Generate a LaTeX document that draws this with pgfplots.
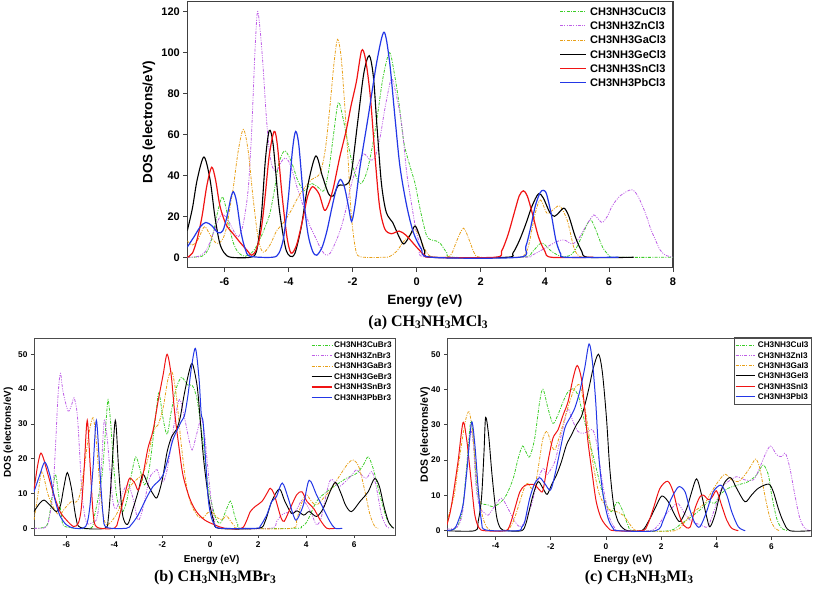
\documentclass[border=0pt]{standalone}
\usepackage{fontspec}
\setmainfont{Liberation Serif}
\setsansfont{Liberation Sans}
\usepackage{pgfplots}
\pgfplotsset{compat=1.18}
\definecolor{cCu}{RGB}{60,205,40}
\definecolor{cZn}{RGB}{190,95,230}
\definecolor{cGa}{RGB}{232,160,25}
\definecolor{cGe}{RGB}{0,0,0}
\definecolor{cSn}{RGB}{240,20,20}
\definecolor{cPb}{RGB}{35,55,230}
\newcommand\sub[1]{\raisebox{-0.25ex}{\fontsize{11.5}{12}\selectfont #1}}
\newcommand\ttl{\fontsize{16}{18}\selectfont\bfseries}
\newcommand\fla{\fontsize{11}{12}\selectfont\sffamily\bfseries}
\newcommand\flb{\fontsize{8.2}{9}\selectfont\sffamily\bfseries}
\tikzset{
  dcu/.style={dash pattern=on 3pt off 1.3pt on 1pt off 1.3pt},
  dzn/.style={dash pattern=on 3pt off 1.3pt on 1pt off 1.3pt on 1pt off 1.3pt},
  lcu/.style={color=cCu, draw=cCu, line width=0.8pt, dcu},
  lzn/.style={color=cZn, draw=cZn, line width=0.8pt, dzn},
  lga/.style={color=cGa, draw=cGa, line width=0.8pt, dcu},
  lge/.style={color=cGe, draw=cGe, line width=1.0pt},
  lsn/.style={color=cSn, draw=cSn, line width=1.1pt},
  lpb/.style={color=cPb, draw=cPb, line width=1.1pt},
}
% legend key line: #1 x0, #2 x1, #3 row y (px from top), #4 style
\newcommand\legkey[4]{\begin{scope}[#4]\draw[#4] (#1,591-#3) -- (#2,591-#3);\end{scope}}
% legend text: #1 x, #2 row y, #3 half cap height, #4 font, #5 text
\newcommand\legtxt[5]{\node[anchor=base west, inner sep=0pt, font=#4] at (#1,591-#2-#3) {#5};}
\pgfplotsset{
  cu/.style={color=cCu, line width=0.8pt, smooth, dcu},
  zn/.style={color=cZn, line width=0.8pt, smooth, dzn},
  ga/.style={color=cGa, line width=0.8pt, smooth, dcu},
  ge/.style={color=cGe, line width=0.9pt, smooth},
  sn/.style={color=cSn, line width=1.0pt, smooth},
  pb/.style={color=cPb, line width=1.0pt, smooth},
  dosax/.style={scale only axis, anchor=south west, tick align=outside,
    xtick pos=bottom, ytick pos=left, clip=true,
    /pgf/number format/assume math mode=true,
    every tick/.style={black!75, line width=0.7pt}},
}
\begin{document}
\begin{tikzpicture}[x=1pt,y=1pt]
\useasboundingbox (0,0) rectangle (815,591);
% ---------------- legend keys first (before any text) ----------------
\path[draw=white, line width=0.1pt] (1,1) -- (1.5,1);
\fill[white] (734.3,591-337.7) rectangle (811,591-404.3);
\legkey{560}{586}{11.7}{lcu}
\legkey{560}{586}{25.9}{lzn}
\legkey{560}{586}{40.1}{lga}
\legkey{560}{586}{54.3}{lge}
\legkey{560}{586}{68.5}{lsn}
\legkey{560}{586}{82.7}{lpb}
\legkey{311.7}{331.7}{345}{lcu}
\legkey{311.7}{331.7}{355.5}{lzn}
\legkey{311.7}{331.7}{366}{lga}
\legkey{311.7}{331.7}{376.5}{lge}
\legkey{311.7}{331.7}{387}{lsn}
\legkey{311.7}{331.7}{397.5}{lpb}
\legkey{735.5}{755}{345}{lcu}
\legkey{735.5}{755}{355.3}{lzn}
\legkey{735.5}{755}{365.6}{lga}
\legkey{735.5}{755}{376}{lge}
\legkey{735.5}{755}{386.3}{lsn}
\legkey{735.5}{755}{396.6}{lpb}
\draw[black!70, line width=0.6pt] (734.3,591-337.7) rectangle (811,591-404.3);
% ---------------- (a) ----------------
\begin{axis}[dosax, at={(187.3pt,323.3pt)}, width=485.7pt, height=266pt,
  xmin=-7.16, xmax=8, ymin=-5.1, ymax=124.9,
  xtick={-6,-4,...,8}, ytick={0,20,...,120},
  major tick length=4pt,
  axis line style={black!75, line width=1.2pt},
  ticklabel style={font=\fla},
  xticklabel style={yshift=-2.5pt},
  xlabel={Energy (eV)}, ylabel={DOS (electrons/eV)},
  label style={font=\fontsize{13.5}{15}\selectfont\sffamily\bfseries},
  xlabel style={at={(axis description cs:0.489,-0.126)}, anchor=center},
  ylabel style={at={(axis description cs:-0.079,0.546)}, anchor=center},
]
\addplot[cu] coordinates {(-7.16,0) (-6.7,0.5) (-6.5,4) (-6.35,12) (-6.2,23) (-6.07,29.5) (-5.95,24) (-5.83,13.5) (-5.7,6) (-5.55,2) (-5.35,0.5) (-5.1,3) (-4.9,8.5) (-4.7,16) (-4.58,21.5) (-4.45,32) (-4.3,46) (-4.13,52) (-3.98,49) (-3.85,44) (-3.7,37) (-3.5,32.5) (-3.3,36) (-3.1,34.5) (-2.9,32.5) (-2.75,42) (-2.62,57) (-2.45,75.5) (-2.3,68) (-2.15,56) (-1.95,42) (-1.75,36) (-1.55,42) (-1.35,57) (-1.2,72) (-1.05,88) (-0.85,100) (-0.7,90) (-0.55,75) (-0.4,56) (-0.2,44) (-0.05,36) (0.1,24) (0.3,11) (0.45,8.5) (0.6,8) (0.75,6.5) (0.95,2) (1.15,0) (3.3,0) (3.6,2.5) (3.9,7) (4.2,3) (4.5,0.5) (4.8,1) (5.0,5) (5.2,12) (5.42,18.3) (5.6,13) (5.8,5) (6.0,1) (6.2,0) (8,0)};
\addplot[zn] coordinates {(-7.16,0) (-6.8,0.5) (-6.56,3.6) (-6.35,11.7) (-6.2,18) (-6.07,21) (-5.9,18.5) (-5.72,13) (-5.57,10) (-5.45,14) (-5.35,22) (-5.25,35) (-5.15,62) (-5.05,100) (-4.97,120) (-4.88,110) (-4.79,92) (-4.7,70) (-4.6,52) (-4.5,44) (-4.38,42) (-4.25,46) (-4.12,48.5) (-4.0,47) (-3.88,42) (-3.74,34.5) (-3.54,25) (-3.35,16) (-3.2,11) (-3.02,5) (-2.85,1.2) (-2.7,2) (-2.5,8.5) (-2.35,15) (-2.2,24) (-2.05,35) (-1.85,45) (-1.65,50.5) (-1.45,47.5) (-1.3,49) (-1.15,58) (-1.0,72) (-0.85,84) (-0.77,87.5) (-0.62,78) (-0.46,64) (-0.31,41) (-0.15,25) (-0.03,14) (0.12,5) (0.32,0) (3.3,0) (3.6,1) (4.0,4.4) (4.35,7.5) (4.6,8.5) (4.85,6.5) (5.05,9) (5.2,13) (5.37,17.5) (5.53,20.7) (5.65,19) (5.79,17) (5.95,20) (6.1,25) (6.35,30) (6.7,33) (6.9,30) (7.14,21.5) (7.3,14) (7.45,8.5) (7.6,3.5) (7.77,1) (8,0)};
\addplot[ga] coordinates {(-7.16,8) (-7.0,6) (-6.85,8) (-6.7,13) (-6.61,15) (-6.45,11) (-6.3,7.5) (-6.19,6.8) (-6.05,9) (-5.93,15) (-5.8,27) (-5.72,34.5) (-5.57,52) (-5.41,62.5) (-5.26,52) (-5.1,28) (-4.94,8.5) (-4.79,2.5) (-4.58,6) (-4.37,13) (-4.2,16) (-3.95,22) (-3.64,31) (-3.28,38) (-3.02,41) (-2.85,53) (-2.7,75) (-2.58,95) (-2.47,106.5) (-2.36,98) (-2.25,75) (-2.13,45) (-2.05,22) (-1.92,5) (-1.77,0.3) (-1.0,0) (-0.83,0.5) (-0.62,3) (-0.41,7.7) (-0.2,11) (-0.05,13.4) (0.1,10) (0.25,4) (0.45,0.3) (0.95,0) (1.1,2) (1.25,8) (1.46,14.2) (1.65,8) (1.8,2) (2.0,0) (3.2,0) (3.35,1) (3.49,5.5) (3.7,21.5) (3.86,28) (4.07,21.5) (4.28,23.5) (4.47,25) (4.7,18) (4.9,5) (5.06,0.6) (5.3,0)};
\addplot[ge, line width=1.1pt] coordinates {(-7.16,13) (-7.0,24) (-6.85,38) (-6.64,49) (-6.45,38) (-6.3,20) (-6.15,7) (-6.0,2) (-5.8,0) (-5.2,0) (-5.0,3) (-4.85,20) (-4.72,48) (-4.6,62) (-4.48,55) (-4.3,25) (-4.1,5) (-3.95,0.5) (-3.8,2) (-3.6,15) (-3.4,35) (-3.15,49.5) (-2.95,40) (-2.75,31) (-2.6,30) (-2.45,35) (-2.2,35.5) (-2.05,40) (-1.85,65) (-1.65,90) (-1.48,98.5) (-1.35,88) (-1.24,64) (-1.1,36) (-0.95,22) (-0.75,17) (-0.55,10) (-0.4,6.5) (-0.2,11) (-0.05,15.3) (0.1,10) (0.25,3) (0.45,0) (2.8,0) (3.0,2) (3.2,8) (3.4,16) (3.6,25) (3.8,31) (3.95,29) (4.15,22) (4.3,20) (4.45,22) (4.6,24) (4.75,20) (4.95,10) (5.15,3) (5.35,0) (6.77,0)};
\addplot[sn, line width=1.2pt] coordinates {(-7.16,0) (-7.0,2) (-6.85,9) (-6.7,20) (-6.55,35) (-6.4,44) (-6.28,38) (-6.14,25) (-5.95,16) (-5.73,11.5) (-5.5,7) (-5.3,3.5) (-5.15,1) (-5.0,4) (-4.85,14) (-4.73,30) (-4.6,50) (-4.45,61.5) (-4.35,55) (-4.2,30) (-4.05,10) (-3.92,2) (-3.75,6) (-3.55,19) (-3.4,30) (-3.25,34.5) (-3.05,31) (-2.88,23) (-2.75,26) (-2.6,34) (-2.4,49) (-2.2,62) (-2.05,74) (-1.88,86) (-1.72,101) (-1.6,97) (-1.45,79) (-1.3,49) (-1.16,25) (-1.0,14) (-0.8,11.5) (-0.55,12.8) (-0.35,11) (-0.2,8.5) (0.05,4) (0.25,1) (0.45,0) (2.45,0) (2.65,3) (2.85,11) (3.05,22) (3.2,30) (3.33,32.5) (3.45,30) (3.6,22) (3.8,10) (4.0,3) (4.2,0) (5.5,0)};
\addplot[pb, line width=1.2pt] coordinates {(-7.16,5) (-6.95,10) (-6.75,15) (-6.58,17) (-6.4,15.5) (-6.2,12) (-6.05,13) (-5.92,20) (-5.8,29) (-5.72,32) (-5.62,27) (-5.48,12) (-5.35,4) (-5.2,0.5) (-4.5,0) (-4.3,2) (-4.15,10) (-4.0,30) (-3.88,52) (-3.78,61.5) (-3.68,55) (-3.55,32) (-3.4,12) (-3.25,3) (-3.12,1) (-2.95,5) (-2.8,13) (-2.65,24) (-2.5,34) (-2.38,38) (-2.25,34) (-2.12,24) (-2.03,17.5) (-1.92,26) (-1.77,44) (-1.5,70) (-1.24,96) (-1.02,110) (-0.85,96) (-0.67,67) (-0.52,44) (-0.31,25) (-0.1,12) (0.15,4) (0.45,0) (3.2,0) (3.4,5) (3.55,14) (3.7,25) (3.85,31.5) (3.95,32.7) (4.05,31) (4.2,21) (4.35,8) (4.5,1.5) (4.65,0) (6.3,0)};
\end{axis}
% ---------------- (b) ----------------
\begin{axis}[dosax, at={(34pt,56pt)}, width=361pt, height=196.7pt,
  xmin=-7.35, xmax=7.70, ymin=-1.93, ymax=54.6,
  xtick={-6,-4,...,6}, ytick={0,10,...,50},
  major tick length=3pt,
  axis line style={black!70, line width=0.8pt},
  ticklabel style={font=\fontsize{8.3}{9}\selectfont\sffamily\bfseries},
  xlabel={Energy (eV)}, ylabel={DOS (electrons/eV)},
  label style={font=\fontsize{10}{11}\selectfont\sffamily\bfseries},
  xlabel style={at={(axis description cs:0.492,-0.127)}, anchor=center},
  ylabel style={at={(axis description cs:-0.071,0.521)}, anchor=center},
]
\addplot[cu] coordinates {(-7.35,0) (-6.85,0.5) (-6.7,4) (-6.6,9) (-6.46,15.5) (-6.33,10) (-6.2,3.5) (-6.05,0.5) (-5.0,0) (-4.85,3) (-4.65,9.5) (-4.5,16) (-4.4,25) (-4.3,35) (-4.25,36.7) (-4.15,30) (-4.03,18) (-3.9,9) (-3.75,5.5) (-3.64,4.8) (-3.48,8) (-3.3,15) (-3.11,20.5) (-2.94,17.2) (-2.74,12.5) (-2.55,17) (-2.4,25) (-2.25,34) (-2.14,39) (-1.97,31.6) (-1.8,27) (-1.63,33.5) (-1.42,40.2) (-1.2,43.4) (-0.95,41.2) (-0.75,41) (-0.55,37) (-0.31,25) (-0.1,12.5) (0.11,5.7) (0.25,2.5) (0.42,1.4) (0.62,4.5) (0.84,7.8) (1.0,4) (1.15,1) (1.35,0) (3.6,0) (3.8,0.5) (4.03,1.9) (4.43,7.7) (4.85,10.5) (5.26,12.5) (5.68,14.4) (6.1,15.8) (6.38,18.2) (6.58,20.5) (6.79,17.2) (7.07,9.6) (7.35,2.9) (7.6,0)};
\addplot[zn] coordinates {(-7.35,0) (-6.85,0.3) (-6.69,3.8) (-6.56,10.5) (-6.45,24) (-6.35,38) (-6.25,44.5) (-6.14,39.3) (-5.93,33.7) (-5.78,35.5) (-5.68,37.5) (-5.55,33) (-5.45,22) (-5.35,10) (-5.22,3) (-5.1,1.2) (-4.95,1.5) (-4.75,2.4) (-4.62,8) (-4.52,20) (-4.42,31) (-4.3,26) (-4.19,17.2) (-4.06,7.7) (-3.92,5.7) (-3.64,10.5) (-3.43,12.5) (-3.22,8.6) (-3.01,2.4) (-2.81,5.7) (-2.53,14.4) (-2.32,16.3) (-2.21,16.8) (-2.08,14) (-1.95,13.4) (-1.76,18.2) (-1.49,30.7) (-1.28,37) (-1.07,31.6) (-0.93,26.8) (-0.76,22.5) (-0.58,26.8) (-0.38,31.5) (-0.24,27) (-0.1,17.2) (0.04,7.7) (0.18,1.9) (0.4,0) (2.5,0) (2.76,1.9) (2.97,3.8) (3.2,4.5) (3.45,4.3) (3.65,6) (3.82,8.1) (4.03,6.7) (4.24,3.8) (4.43,1) (4.6,2.5) (4.71,5.7) (4.93,12.5) (5.07,14.1) (5.35,12) (5.63,13.4) (5.9,15.3) (6.1,16.8) (6.35,15) (6.52,14.4) (6.74,16.3) (6.93,11.5) (7.14,3.8) (7.35,0.5) (7.5,0)};
\addplot[ga] coordinates {(-7.35,2.4) (-7.2,9) (-7.05,16) (-6.95,15) (-6.76,9.6) (-6.49,5.3) (-6.28,3.8) (-6.07,5.7) (-5.79,7.7) (-5.6,7.5) (-5.44,9.6) (-5.24,18.2) (-5.07,26.8) (-4.89,31.8) (-4.75,25) (-4.61,12.5) (-4.47,3.8) (-4.33,1) (-4.13,1.9) (-3.85,4.8) (-3.57,9.6) (-3.29,12.5) (-3.01,14.4) (-2.81,15.8) (-2.6,20) (-2.39,27.8) (-2.18,29.7) (-1.97,34.5) (-1.76,43) (-1.6,45) (-1.42,38.3) (-1.21,24) (-1.0,12.5) (-0.79,6.7) (-0.51,3.4) (-0.3,3) (-0.1,4.5) (0.1,4.5) (0.3,3) (0.5,2.5) (0.67,3.6) (0.85,2) (1.0,0.8) (1.2,0) (3.4,0) (3.6,2.5) (3.74,5.7) (3.88,8.6) (4.02,9.6) (4.22,7.7) (4.43,6.7) (4.71,8.6) (5.06,11.5) (5.41,15.3) (5.75,18.7) (5.97,19.6) (6.2,17.5) (6.45,10.5) (6.66,3.8) (6.86,0.5) (7.0,0)};
\addplot[ge] coordinates {(-7.35,4.8) (-7.11,7.2) (-6.93,8.1) (-6.69,6.7) (-6.42,4.8) (-6.25,6.5) (-6.1,12) (-5.96,16) (-5.79,11.5) (-5.6,3) (-5.4,0.2) (-4.4,0) (-4.25,3) (-4.12,15) (-3.96,31) (-3.82,17) (-3.66,4) (-3.45,1.1) (-3.22,5.7) (-3.01,10.5) (-2.81,15.5) (-2.6,12.5) (-2.4,10) (-2.22,8.8) (-2.0,14) (-1.8,22) (-1.6,26.5) (-1.4,28.5) (-1.25,32) (-1.1,38) (-0.92,44) (-0.76,47.4) (-0.6,43) (-0.5,37.8) (-0.29,20.6) (-0.08,9.1) (0.13,2.4) (0.35,0) (2.0,0) (2.28,1.9) (2.56,7.7) (2.88,11.3) (3.11,7.7) (3.39,4.3) (3.62,5) (3.9,3.8) (4.12,4.8) (4.43,3.4) (4.71,5.7) (4.99,10.5) (5.22,13.2) (5.45,10) (5.65,6.5) (5.89,4.8) (6.24,7.7) (6.58,10.5) (6.85,14.3) (7.05,12) (7.25,6) (7.45,1.5) (7.65,0)};
\addplot[sn] coordinates {(-7.35,11) (-7.2,18) (-7.07,21.6) (-6.95,20) (-6.83,17) (-6.56,10.5) (-6.28,5) (-6.0,2.4) (-5.7,0.5) (-5.5,1.5) (-5.38,5.7) (-5.26,17) (-5.13,31) (-5.0,17) (-4.88,4) (-4.72,0.3) (-4.0,0) (-3.85,2) (-3.71,5.7) (-3.5,11.5) (-3.36,14.4) (-3.15,13) (-3.0,11) (-2.81,15.3) (-2.6,23) (-2.39,28) (-2.18,36.4) (-1.97,44) (-1.8,50) (-1.63,44) (-1.49,33.5) (-1.32,24) (-1.14,15.3) (-0.86,8.6) (-0.58,4.8) (-0.24,2.4) (0.18,1) (0.6,0) (1.3,0) (1.5,2) (1.67,4.8) (1.88,6.3) (2.15,7.7) (2.36,10) (2.5,11.5) (2.65,10) (2.8,6.5) (2.95,3) (3.08,2) (3.33,5.7) (3.6,9.6) (3.82,10.5) (4.03,7.7) (4.31,5.7) (4.58,2.4) (4.86,0) (5.2,0)};
\addplot[pb] coordinates {(-7.35,10.5) (-7.11,15.3) (-6.9,19) (-6.69,15.3) (-6.49,8.6) (-6.28,3.8) (-6.0,1) (-5.65,0) (-5.2,0.5) (-5.03,5.7) (-4.89,17.2) (-4.75,31) (-4.61,17.2) (-4.47,3.8) (-4.33,0.3) (-3.5,0) (-3.3,1) (-3.01,3.8) (-2.67,8.6) (-2.39,12) (-2.18,13.4) (-1.97,15.3) (-1.76,20) (-1.56,25.4) (-1.35,28.7) (-1.21,30.7) (-1.07,32.6) (-0.93,38.3) (-0.79,46) (-0.62,51.7) (-0.47,43) (-0.38,33) (-0.3,30.5) (-0.2,20) (-0.08,8) (0.05,3) (0.2,0.8) (0.4,0) (1.9,0) (2.07,0.5) (2.35,3.8) (2.56,7.7) (2.75,9) (3.0,13) (3.25,8.6) (3.45,4) (3.6,2.4) (3.88,6.7) (4.12,13.8) (4.43,9.6) (4.71,5.7) (4.99,1.9) (5.2,0) (5.5,0)};
\end{axis}
% ---------------- (c) ----------------
\begin{axis}[dosax, at={(447pt,54.3pt)}, width=364.7pt, height=198.7pt,
  xmin=-5.76, xmax=7.46, ymin=-1.7, ymax=54.6,
  xtick={-4,-2,...,6}, ytick={0,10,...,50},
  major tick length=3pt,
  axis line style={black!70, line width=0.8pt},
  ticklabel style={font=\fontsize{8.3}{9}\selectfont\sffamily\bfseries},
  xlabel={Energy (eV)}, ylabel={DOS (electrons/eV)},
  label style={font=\fontsize{10.5}{11}\selectfont\sffamily\bfseries},
  xlabel style={at={(axis description cs:0.483,-0.117)}, anchor=center},
  ylabel style={at={(axis description cs:-0.060,0.512)}, anchor=center},
]
\addplot[cu] coordinates {(-5.77,0) (-5.4,1) (-5.2,6) (-5.05,18) (-4.9,31) (-4.8,26) (-4.7,14) (-4.57,8.2) (-4.27,7.3) (-4.09,6.8) (-3.85,7.8) (-3.61,10.1) (-3.36,14.8) (-3.18,20.5) (-3.02,24) (-2.88,22) (-2.76,21) (-2.58,26.2) (-2.4,36.6) (-2.28,40.1) (-2.1,34.7) (-1.92,30.4) (-1.74,32.8) (-1.55,36.6) (-1.37,39.4) (-1.19,40.2) (-1.01,38.5) (-0.89,34.7) (-0.71,29) (-0.53,23.3) (-0.35,17.7) (-0.17,12) (0.02,7.3) (0.2,5.4) (0.42,8.2) (0.62,5.4) (0.8,1.6) (1.0,0) (2.3,0) (2.75,2.1) (3.11,4) (3.47,6.3) (3.71,8.2) (3.95,7.8) (4.13,10.1) (4.43,12) (4.8,13) (5.16,13.9) (5.46,15.8) (5.7,18.6) (5.89,15.8) (6.01,10.1) (6.19,3.5) (6.37,0.7) (6.6,0)};
\addplot[zn] coordinates {(-5.77,0.5) (-5.4,1) (-5.2,5) (-5.05,17) (-4.9,28) (-4.8,24) (-4.7,12) (-4.57,6.5) (-4.45,5.4) (-4.27,4.4) (-4.09,6.3) (-3.79,9.2) (-3.55,6.3) (-3.3,2.6) (-3.12,1.1) (-2.94,2.6) (-2.7,7.3) (-2.58,11) (-2.4,15.8) (-2.25,17.7) (-2.16,15.8) (-2.01,17.2) (-1.85,19.6) (-1.7,24.3) (-1.53,30) (-1.37,34.5) (-1.19,30.9) (-1.01,28.1) (-0.83,27.6) (-0.65,28.1) (-0.47,28.5) (-0.32,24.3) (-0.17,15.8) (0.0,8.2) (0.14,3.5) (0.32,0.8) (0.5,0) (1.6,0) (1.9,1.6) (2.14,4.4) (2.38,6.3) (2.6,7.8) (2.81,5.4) (3.05,3) (3.3,2) (3.55,1.2) (3.71,1.3) (3.95,6.3) (4.19,12) (4.43,13.9) (4.74,15.3) (5.04,14.4) (5.34,14.4) (5.52,16.8) (5.77,21.5) (5.97,24) (6.19,21.5) (6.37,21) (6.51,21.9) (6.67,17.7) (6.85,10.1) (7.03,3.5) (7.21,0.7) (7.4,0)};
\addplot[ga] coordinates {(-5.77,2) (-5.66,5.4) (-5.5,10) (-5.36,17.7) (-5.12,30) (-4.96,33.7) (-4.82,27) (-4.69,15.8) (-4.51,5.4) (-4.33,1.1) (-4.1,0) (-3.6,0) (-3.36,2.6) (-3.12,8.2) (-2.94,12.5) (-2.82,13.4) (-2.7,12) (-2.54,13.9) (-2.4,20.5) (-2.28,26.2) (-2.13,28.1) (-1.97,24.3) (-1.85,22.9) (-1.67,27.1) (-1.49,31.9) (-1.31,36.6) (-1.13,40.4) (-0.95,41.3) (-0.83,37.5) (-0.68,30.9) (-0.53,22.4) (-0.37,14.8) (-0.23,10.1) (-0.04,7.3) (0.14,5.9) (0.38,5.4) (0.62,4.4) (0.8,2.6) (0.98,0.7) (1.2,0) (2.5,0) (2.87,2.6) (3.11,4.9) (3.35,6.3) (3.59,7.8) (3.83,11) (4.07,13.9) (4.32,16) (4.56,14.4) (4.8,13.9) (5.04,15.8) (5.28,18.6) (5.43,20.3) (5.58,17.7) (5.76,10.1) (5.95,3.5) (6.13,0.7) (6.3,0)};
\addplot[ge] coordinates {(-5.77,0) (-4.75,0) (-4.63,2.6) (-4.51,9.2) (-4.42,22) (-4.36,32.1) (-4.25,27) (-4.13,16) (-3.97,4.4) (-3.82,0.7) (-3.6,0) (-3.05,0) (-2.9,2) (-2.82,4.4) (-2.64,10.1) (-2.46,13.9) (-2.28,12) (-2.13,10.3) (-1.97,13) (-1.79,15.8) (-1.61,19.6) (-1.43,24.3) (-1.25,27.1) (-1.07,30) (-0.89,32.3) (-0.73,36.6) (-0.59,41.3) (-0.46,46) (-0.27,50) (-0.13,45) (0.02,32) (0.14,17.7) (0.28,7.3) (0.44,2.6) (0.62,0.7) (0.8,0) (1.3,0) (1.54,2.6) (1.78,6.3) (2.02,9.8) (2.26,8.2) (2.5,4.4) (2.69,2.6) (2.93,6.3) (3.11,11) (3.29,14.7) (3.47,10.1) (3.65,4) (3.77,1.1) (3.95,4.4) (4.13,10.1) (4.32,13.9) (4.53,15) (4.74,12) (5.04,8.2) (5.28,10.1) (5.52,12) (5.9,13.2) (6.07,11) (6.25,6.3) (6.43,2.6) (6.67,0) (7.44,0)};
\addplot[sn] coordinates {(-5.77,1.5) (-5.65,5) (-5.54,10) (-5.36,19.6) (-5.18,30.6) (-5.05,26) (-4.95,19) (-4.87,13) (-4.75,4.4) (-4.6,0.8) (-4.4,0) (-3.65,0) (-3.48,1.6) (-3.3,6.3) (-3.12,11) (-2.94,12.8) (-2.75,13.1) (-2.58,13) (-2.4,11.5) (-2.3,11) (-2.22,13.9) (-2.1,19.6) (-1.92,26.2) (-1.74,28.5) (-1.55,32.8) (-1.37,36.6) (-1.19,43.2) (-1.04,46.8) (-0.89,43.2) (-0.77,34.7) (-0.65,25.2) (-0.49,15.8) (-0.35,8.2) (-0.17,3.5) (0.08,0.8) (0.3,0) (1.3,0) (1.5,1.5) (1.72,6.3) (1.96,12) (2.24,14) (2.44,11) (2.62,5.4) (2.81,1.6) (3.05,1) (3.23,6.3) (3.4,9.5) (3.53,10.1) (3.72,8.8) (3.85,9.5) (4.01,11.3) (4.19,7.3) (4.38,3) (4.56,0.7) (4.8,0)};
\addplot[pb] coordinates {(-5.77,0) (-5.5,0.5) (-5.36,2.6) (-5.18,7.3) (-5.03,17.7) (-4.87,30.7) (-4.75,24.3) (-4.63,12) (-4.51,2.6) (-4.35,0.2) (-3.2,0) (-3.05,1) (-2.94,2.6) (-2.76,9.2) (-2.58,13.4) (-2.4,15) (-2.22,13.4) (-2.01,11.5) (-1.85,15.8) (-1.67,22.4) (-1.49,29) (-1.31,31.9) (-1.13,34.7) (-0.95,39.4) (-0.77,46) (-0.61,52.9) (-0.49,47.9) (-0.37,36.6) (-0.25,20.5) (-0.1,10.1) (0.08,3.5) (0.26,0.7) (0.45,0) (1.8,0) (2.08,3) (2.32,8.2) (2.5,11) (2.66,12.5) (2.87,11) (3.05,5.8) (3.23,2.1) (3.41,1.1) (3.65,5.4) (3.89,11) (4.17,12.9) (4.38,10.1) (4.56,5.4) (4.8,1.1) (5.05,0)};
\end{axis}
% ---------------- legend texts ----------------
\legtxt{590}{11.7}{3.9}{\fla}{CH3NH3CuCl3}
\legtxt{590}{25.9}{3.9}{\fla}{CH3NH3ZnCl3}
\legtxt{590}{40.1}{3.9}{\fla}{CH3NH3GaCl3}
\legtxt{590}{54.3}{3.9}{\fla}{CH3NH3GeCl3}
\legtxt{590}{68.5}{3.9}{\fla}{CH3NH3SnCl3}
\legtxt{590}{82.7}{3.9}{\fla}{CH3NH3PbCl3}
\legtxt{334}{345}{2.95}{\flb}{CH3NH3CuBr3}
\legtxt{334}{355.5}{2.95}{\flb}{CH3NH3ZnBr3}
\legtxt{334}{366}{2.95}{\flb}{CH3NH3GaBr3}
\legtxt{334}{376.5}{2.95}{\flb}{CH3NH3GeBr3}
\legtxt{334}{387}{2.95}{\flb}{CH3NH3SnBr3}
\legtxt{334}{397.5}{2.95}{\flb}{CH3NH3PbBr3}
\legtxt{757.7}{345}{2.95}{\flb}{CH3NH3CuI3}
\legtxt{757.7}{355.3}{2.95}{\flb}{CH3NH3ZnI3}
\legtxt{757.7}{365.6}{2.95}{\flb}{CH3NH3GaI3}
\legtxt{757.7}{376}{2.95}{\flb}{CH3NH3GeI3}
\legtxt{757.7}{386.3}{2.95}{\flb}{CH3NH3SnI3}
\legtxt{757.7}{396.6}{2.95}{\flb}{CH3NH3PbI3}
% ---------------- captions ----------------
\node[font=\ttl, anchor=center] at (428,268) {(a) CH\sub{3}NH\sub{3}MCl\sub{3}};
\node[font=\ttl, anchor=center] at (215,13) {(b) CH\sub{3}NH\sub{3}MBr\sub{3}};
\node[font=\ttl, anchor=center] at (639,13) {(c) CH\sub{3}NH\sub{3}MI\sub{3}};
\end{tikzpicture}
\end{document}
